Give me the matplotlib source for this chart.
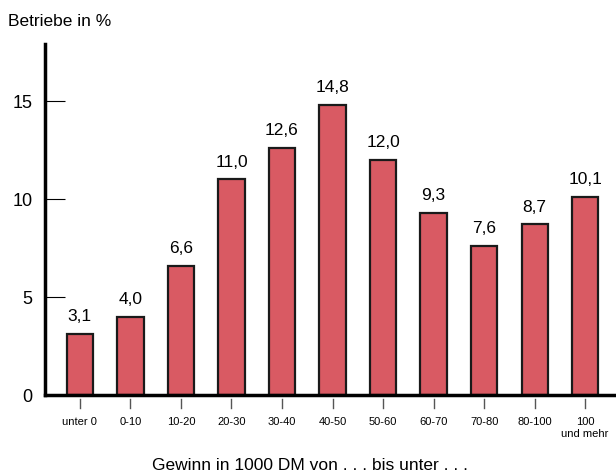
import matplotlib
matplotlib.use("Agg")
import matplotlib.pyplot as plt
from matplotlib.transforms import blended_transform_factory

plt.rcParams['font.family'] = ['Liberation Sans', 'DejaVu Sans']

# Gewinnklassen und Anteile der Betriebe in %
klassen = ["unter 0", "0-10", "10-20", "20-30", "30-40", "40-50",
           "50-60", "60-70", "70-80", "80-100", "100\nund mehr"]
anteile = [3.1, 4.0, 6.6, 11.0, 12.6, 14.8, 12.0, 9.3, 7.6, 8.7, 10.1]
y_ticks = [0, 5, 10, 15]

fig = plt.figure(figsize=(6.16, 4.77), dpi=100)
ax = fig.add_axes([45 / 616, 81 / 477, 571 / 616, 351 / 477])

pos = list(range(len(klassen)))
ax.bar(pos, anteile, width=0.52, color="#d95a63", edgecolor="#1a1a1a",
       linewidth=1.6, zorder=2)

for x, v in zip(pos, anteile):
    ax.text(x, v + 0.55, f"{v:.1f}".replace(".", ","), ha="center",
            va="bottom", fontsize=12.5)

ax.set_xlim(-0.69, 10.61)
ax.set_ylim(0, 17.9)

for s in ["top", "right"]:
    ax.spines[s].set_visible(False)
ax.spines["left"].set_linewidth(2.5)
ax.spines["bottom"].set_linewidth(2.5)

ax.set_yticks(y_ticks)
ax.tick_params(axis="y", direction="in", length=14.5, width=0.8,
               labelsize=13, pad=9)

# kleine Striche unter der Achse, mit Abstand
ax.set_xticks(pos)
ax.set_xticklabels(klassen, fontsize=8, linespacing=1.3)
ax.tick_params(axis="x", length=0, pad=15)
trans = blended_transform_factory(ax.transData, ax.transAxes)
for x in pos:
    ax.plot([x, x], [-0.012, -0.037], color="#555555", lw=1,
            transform=trans, clip_on=False)

fig.text(8 / 616, 1 - 22 / 477, "Betriebe in %", fontsize=12.5,
         ha="left", va="center")
fig.text(310 / 616, 1 - 466 / 477,
         "Gewinn in 1000 DM von . . . bis unter . . .", fontsize=12.5,
         ha="center", va="center")

fig.savefig("out.png", dpi=100)
